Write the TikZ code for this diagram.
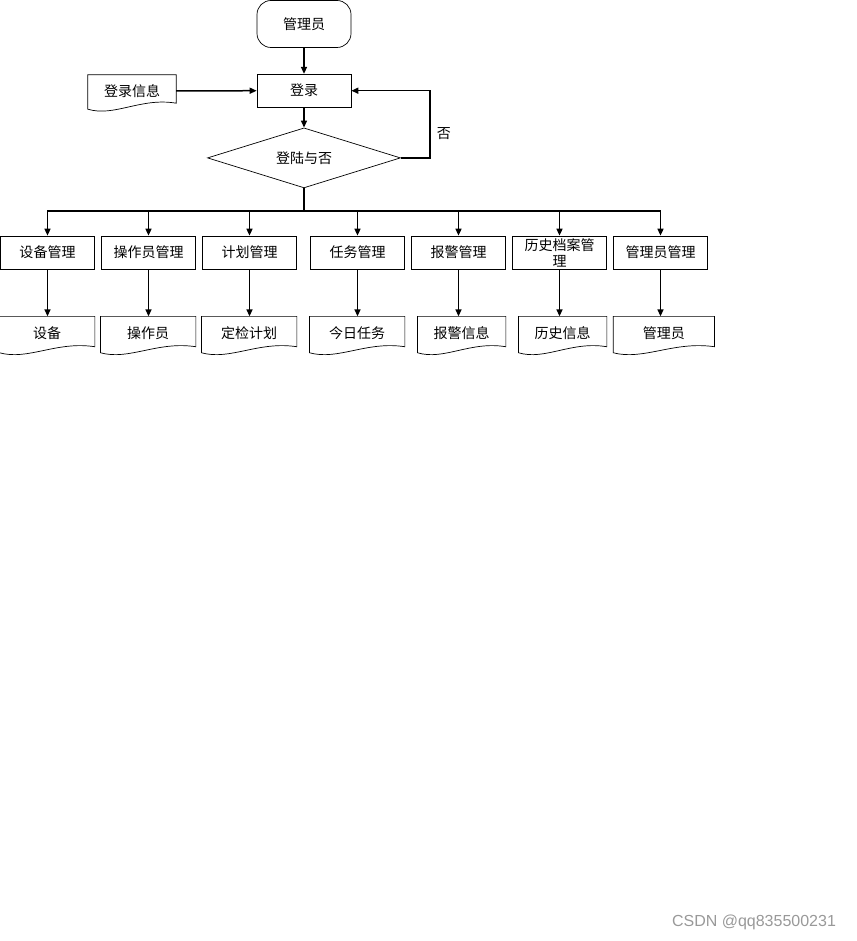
\documentclass[tikz,border=0pt]{standalone}
\usepackage{fontspec}
\setmainfont{Noto Sans CJK SC}
\newfontfamily\wmfont{Liberation Sans}
\usetikzlibrary{arrows.meta,positioning,shapes.geometric,calc}

\begin{document}
\begin{tikzpicture}[
    x=1pt, y=-1pt,
    node distance=6.3pt,
    every node/.style={font=\fontsize{14}{16}\selectfont},
    box/.style={draw, line width=0.7pt, align=center, minimum width=94pt, minimum height=33pt, inner sep=1pt},
    term/.style={box, rounded corners=14pt, minimum height=47pt},
    decision/.style={draw, line width=0.7pt, diamond, aspect=3.2, minimum width=193pt, minimum height=60pt, inner sep=0pt},
    doc/.style={minimum width=95pt, minimum height=34pt, inner sep=1pt},
    link/.style={-{Triangle[length=7pt,width=6pt]}, line width=1.5pt},
    bus/.style={line width=1.5pt}
]
\useasboundingbox (0,0) rectangle (856,941);

\node[term] (admin) at (304,24) {管理员};
\node[box, below=26pt of admin] (login) {登录};
\node[doc, minimum width=88pt, minimum height=32pt] (info) at (132,91) {登录信息};
\node[decision, below=20pt of login] (check) {登陆与否};

% management row
\node[box] (m1) at (47.5,252.5) {设备管理};
\node[box, right=of m1] (m2) {操作员管理};
\node[box, right=of m2] (m3) {计划管理};
\node[box, right=13.3pt of m3] (m4) {任务管理};
\node[box, right=of m4] (m5) {报警管理};
\node[box, right=of m5] (m6) {历史档案管\\理};
\node[box, right=of m6] (m7) {管理员管理};

% data row
\node[doc, below=47pt of m1.south east, anchor=north east] (d1) {设备};
\node[doc, below=47pt of m2.south east, anchor=north east] (d2) {操作员};
\node[doc, below=47pt of m3.south east, anchor=north east] (d3) {定检计划};
\node[doc, below=47pt of m4.south east, anchor=north east] (d4) {今日任务};
\node[doc, minimum width=88pt, below=47pt of m5.south east, anchor=north east] (d5) {报警信息};
\node[doc, minimum width=88pt, below=47pt of m6.south east, anchor=north east] (d6) {历史信息};
\node[doc, minimum width=101pt, below=47pt of m7.south west, anchor=north west] (d7) {管理员};

% document outlines
\foreach \d in {info,d1,d2,d3,d4,d5,d6,d7}
  \draw[line width=0.7pt] (\d.north west) -- (\d.north east) -- ([yshift=4pt]\d.south east)
    .. controls ($(\d.south west)!0.6!(\d.south east)+(0,10pt)$) and ($(\d.south west)!0.3!(\d.south east)+(0,-10pt)$)
    .. ([yshift=-2pt]\d.south west) -- cycle;

\draw[link] (admin) -- (login);
\draw[link] (info.east) -- (login.west);
\draw[link] (login) -- (check);
\draw[link] (check.east) -- ++(29pt,0) |- node[pos=0.18, right=3pt] (no) {否} (login.east);

\draw[bus] (check.south) -- ++(0,-23pt) coordinate (split);
\foreach \i in {1,...,7}
  \draw[link] (split) -| (m\i.north);
\foreach \i in {1,...,7}
  \draw[link] (m\i.south) -- (m\i.south |- d\i.north);

\node[font=\wmfont\fontsize{16}{18}\selectfont, text=black!40] (mark) at (754,922) {CSDN @qq835500231};
\end{tikzpicture}
\end{document}
